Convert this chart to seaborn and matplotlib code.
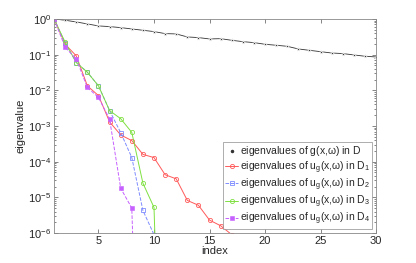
import matplotlib
matplotlib.use("Agg")
import matplotlib.pyplot as plt
import numpy as np
import seaborn as sns
from matplotlib.lines import Line2D

# eigenvalue spectra
index = list(range(1, 31))
g_D = [1.0, 0.918, 0.824, 0.724, 0.637, 0.610, 0.571, 0.524, 0.481, 0.442,
       0.388, 0.380, 0.313, 0.300, 0.275, 0.280, 0.252, 0.231, 0.217, 0.195,
       0.183, 0.171, 0.144, 0.132, 0.121, 0.111, 0.107, 0.098, 0.090, 0.086]

index_d1 = list(range(1, 19))
u_D1 = [1.0, 0.195, 0.092, 0.0133, 0.0071, 0.0013, 5.6e-4, 3.9e-4, 1.6e-4, 1.3e-4,
        4.3e-5, 3.3e-5, 8.2e-6, 6.0e-6, 2.3e-6, 1.6e-6, 9e-7, 1e-12]

index_d2 = list(range(1, 12))
u_D2 = [1.0, 0.21, 0.06, 0.032, 0.0133, 0.0027, 6.5e-4, 1.3e-4, 4.3e-6, 9e-7, 1e-15]

index_d3 = list(range(1, 12))
u_D3 = [1.0, 0.22, 0.06, 0.032, 0.0133, 0.0027, 0.0016, 6.6e-4, 2.5e-5, 5.2e-6, 1e-15]

index_d4 = list(range(1, 10))
u_D4 = [1.0, 0.16, 0.075, 0.012, 0.0063, 0.00155, 1.8e-5, 5e-6, 1e-15]

labels = [r"eigenvalues of g(x,$\omega$) in D",
          r"eigenvalues of u$_\mathregular{g}$(x,$\omega$) in D$_\mathregular{1}$",
          r"eigenvalues of u$_\mathregular{g}$(x,$\omega$) in D$_\mathregular{2}$",
          r"eigenvalues of u$_\mathregular{g}$(x,$\omega$) in D$_\mathregular{3}$",
          r"eigenvalues of u$_\mathregular{g}$(x,$\omega$) in D$_\mathregular{4}$"]

sns.set_style("ticks")
plt.rcParams['font.family'] = ['Liberation Sans', 'DejaVu Sans']
plt.rcParams['mathtext.fontset'] = 'custom'
plt.rcParams['mathtext.rm'] = 'Liberation Sans'
plt.rcParams['mathtext.it'] = 'Liberation Sans'

fig = plt.figure(figsize=(4.16, 2.63), dpi=100)
ax = fig.add_axes([0.13, 0.114, 0.774, 0.814])

red = '#ff5a5a'
blue = '#7f8cff'
green = '#7ee040'
purple = '#c660ff'

sns.lineplot(x=index, y=g_D, ax=ax, color='#333333', lw=0.6, marker='*',
             markersize=3, markeredgewidth=0.4, label=labels[0])
sns.lineplot(x=index_d1, y=u_D1, ax=ax, color=red, lw=0.7, marker='o',
             markersize=3, markerfacecolor='none', markeredgecolor=red,
             markeredgewidth=0.6, label=labels[1])
sns.lineplot(x=index_d2, y=u_D2, ax=ax, color=blue, lw=0.7, linestyle='--',
             marker='s', markersize=2.5, markerfacecolor='none',
             markeredgecolor=blue, markeredgewidth=0.6, label=labels[2])
sns.lineplot(x=index_d3, y=u_D3, ax=ax, color=green, lw=0.7, marker='o',
             markersize=3, markerfacecolor='none', markeredgecolor=green,
             markeredgewidth=0.6, label=labels[3])
sns.lineplot(x=index_d4, y=u_D4, ax=ax, color=purple, lw=0.7, linestyle='--',
             marker='s', markersize=2.5, markerfacecolor=purple,
             markeredgecolor=purple, markeredgewidth=0.4, label=labels[4])

ax.set_yscale('log')
ax.set_xlim(1, 30)
ax.set_ylim(1e-6, 1)
ax.set_xticks([5, 10, 15, 20, 25, 30])
ax.set_yticks([1e-6, 1e-5, 1e-4, 1e-3, 1e-2, 1e-1, 1e0])
ax.tick_params(which='both', direction='in', top=True, right=True,
               labelsize=8, color='#555555', length=3, width=0.5, pad=2)
ax.tick_params(which='minor', length=1.5)
for s in ax.spines.values():
    s.set_color('#888888')
    s.set_linewidth(0.6)

ax.set_xlabel('index', fontsize=8, labelpad=0)
ax.set_ylabel('eigenvalue', fontsize=8, labelpad=2)

handles, _ = ax.get_legend_handles_labels()
handles[0] = Line2D([], [], color='#333333', marker='.', markersize=3, lw=0)
leg = ax.legend(handles, labels, loc='lower right', fontsize=7.5, frameon=True,
                fancybox=False, edgecolor='#888888', handlelength=1.2,
                handletextpad=0.2, borderpad=0.2, labelspacing=0.08,
                borderaxespad=0.35)
leg.get_frame().set_linewidth(0.6)

fig.savefig('out.png', dpi=100)
